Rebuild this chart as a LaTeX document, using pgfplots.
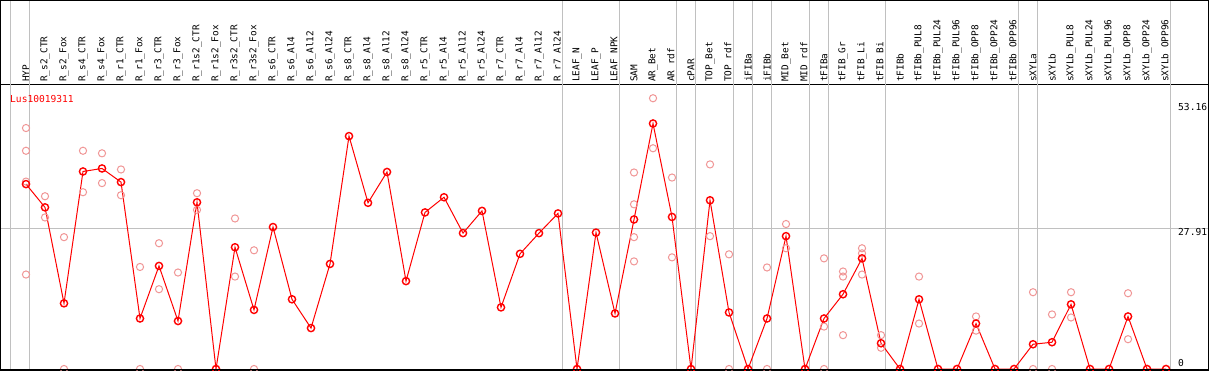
\documentclass[border=0pt]{standalone}
\usepackage{pgfplots}
\pgfplotsset{compat=1.18}
\usepackage{pgfplotstable}
\usepackage{fontspec}
\setmainfont{DejaVu Sans Mono}
\definecolor{sepgray}{RGB}{192,192,192}
\definecolor{pinkc}{RGB}{240,150,150}
\definecolor{mainred}{RGB}{255,0,0}

\pgfplotstableread{
x y
0 36.6
1 32.0
2 13.0
3 39.1
4 39.7
5 37.0
6 10.0
7 20.4
8 9.5
9 33.0
10 0
11 24.1
12 11.7
13 28.1
14 13.8
15 8.1
16 20.8
17 46.1
18 32.9
19 39.0
20 17.4
21 31.0
22 34.0
23 26.9
24 31.3
25 12.2
26 22.8
27 26.9
28 30.8
29 0
30 27.0
31 11.0
32 29.6
33 48.6
34 30.1
35 0
36 33.4
37 11.2
38 0
39 10.0
40 26.3
41 0
42 10.0
43 14.8
44 21.9
45 5.1
46 0
47 13.8
48 0
49 0
50 9.0
51 0
52 0
53 4.9
54 5.3
55 12.8
56 0
57 0
58 10.4
59 0
60 0
}\maindata

\pgfplotstableread{
x y
0 47.7
0 43.2
0 37.1
0 18.7
1 34.2
1 30.0
2 26.1
2 0
3 43.2
3 35.0
4 42.7
4 36.8
5 39.5
5 34.4
6 20.2
6 0
7 24.9
7 15.8
8 19.1
8 0
9 34.8
9 31.5
11 29.8
11 18.3
12 23.5
12 0
32 38.9
32 32.6
32 26.1
32 21.3
33 53.6
33 43.7
34 37.9
34 22.1
36 40.5
36 26.3
37 22.7
37 0
39 20.1
39 0
40 28.7
40 23.9
42 21.9
42 8.4
42 0
43 19.3
43 18.3
43 6.7
44 23.9
44 22.9
44 18.7
45 6.7
45 4.2
47 18.3
47 9.0
50 10.4
50 7.6
53 15.2
53 0
54 10.8
54 0
55 15.2
55 10.2
58 15.0
58 5.9
}\repdata

\begin{document}
\begin{tikzpicture}
\begin{axis}[
  at={(0,0)}, anchor=south west,
  scale only axis, width=1209pt, height=285pt,
  xmin=-1.3684, xmax=62.263, ymin=-0.198, ymax=56.22,
  clip=false,
  axis line style={line width=1pt, black},
  xtick={0,...,60},
  xticklabels={HYP,R\_s2\_CTR,R\_s2\_Fox,R\_s4\_CTR,R\_s4\_Fox,R\_r1\_CTR,R\_r1\_Fox,R\_r3\_CTR,R\_r3\_Fox,R\_r1s2\_CTR,R\_r1s2\_Fox,R\_r3s2\_CTR,R\_r3s2\_Fox,R\_s6\_CTR,R\_s6\_Al4,R\_s6\_Al12,R\_s6\_Al24,R\_s8\_CTR,R\_s8\_Al4,R\_s8\_Al12,R\_s8\_Al24,R\_r5\_CTR,R\_r5\_Al4,R\_r5\_Al12,R\_r5\_Al24,R\_r7\_CTR,R\_r7\_Al4,R\_r7\_Al12,R\_r7\_Al24,LEAF\_N,LEAF\_P,LEAF\_NPK,SAM,AR\_Bet,AR\_rdf,cPAR,TOP\_Bet,TOP\_rdf,iFIBa,iFIBb,MID\_Bet,MID\_rdf,tFIBa,tFIB\_Gr,tFIB\_Li,tFIB\_Bi,tFIBb,tFIBb\_PUL8,tFIBb\_PUL24,tFIBb\_PUL96,tFIBb\_OPP8,tFIBb\_OPP24,tFIBb\_OPP96,sXYLa,sXYLb,sXYLb\_PUL8,sXYLb\_PUL24,sXYLb\_PUL96,sXYLb\_OPP8,sXYLb\_OPP24,sXYLb\_OPP96},
  xticklabel pos=right,
  xticklabel style={rotate=90, anchor=west, font=\fontsize{9.4}{10}\selectfont, inner sep=3pt},
  major tick length=0pt,
  ytick=\empty,
]
\pgfplotsinvokeforeach{-0.842,0.21,28.21,31.21,34.21,35.21,37.21,38.21,39.21,41.21,42.21,45.21,52.21,53.21,60.21}{
  \draw[sepgray, line width=1pt] (axis cs:#1,-0.198) -- ([yshift=85pt]axis cs:#1,56.22);
}
\draw[sepgray, line width=1pt] (axis cs:-1.3684,27.91) -- (axis cs:62.263,27.91);

\addplot[only marks, mark=o, mark size=3.6pt, pinkc, mark options={line width=1pt}] table[x=x,y=y] {\repdata};
\addplot[mainred, line width=1pt, mark=o, mark size=3.6pt, mark options={line width=1.4pt}] table[x=x,y=y] {\maindata};

\node[anchor=base west, inner sep=0pt, text=mainred, font=\fontsize{9.6}{10}\selectfont] at (axis cs:-0.842,52.85) {Lus10019311};
\node[anchor=base west, inner sep=0pt, font=\fontsize{9.6}{10}\selectfont] at (axis cs:60.63,51.27) {53.16};
\node[anchor=base west, inner sep=0pt, font=\fontsize{9.6}{10}\selectfont] at (axis cs:60.63,26.52) {27.91};
\node[anchor=base west, inner sep=0pt, font=\fontsize{9.6}{10}\selectfont] at (axis cs:60.63,0.59) {0};
\end{axis}
\draw[black, line width=1pt] (0.5pt,0.5pt) rectangle (1208.5pt,369.5pt);
\pgfresetboundingbox
\path[use as bounding box] (0,0) rectangle (1209pt,370pt);
\end{tikzpicture}
\end{document}
